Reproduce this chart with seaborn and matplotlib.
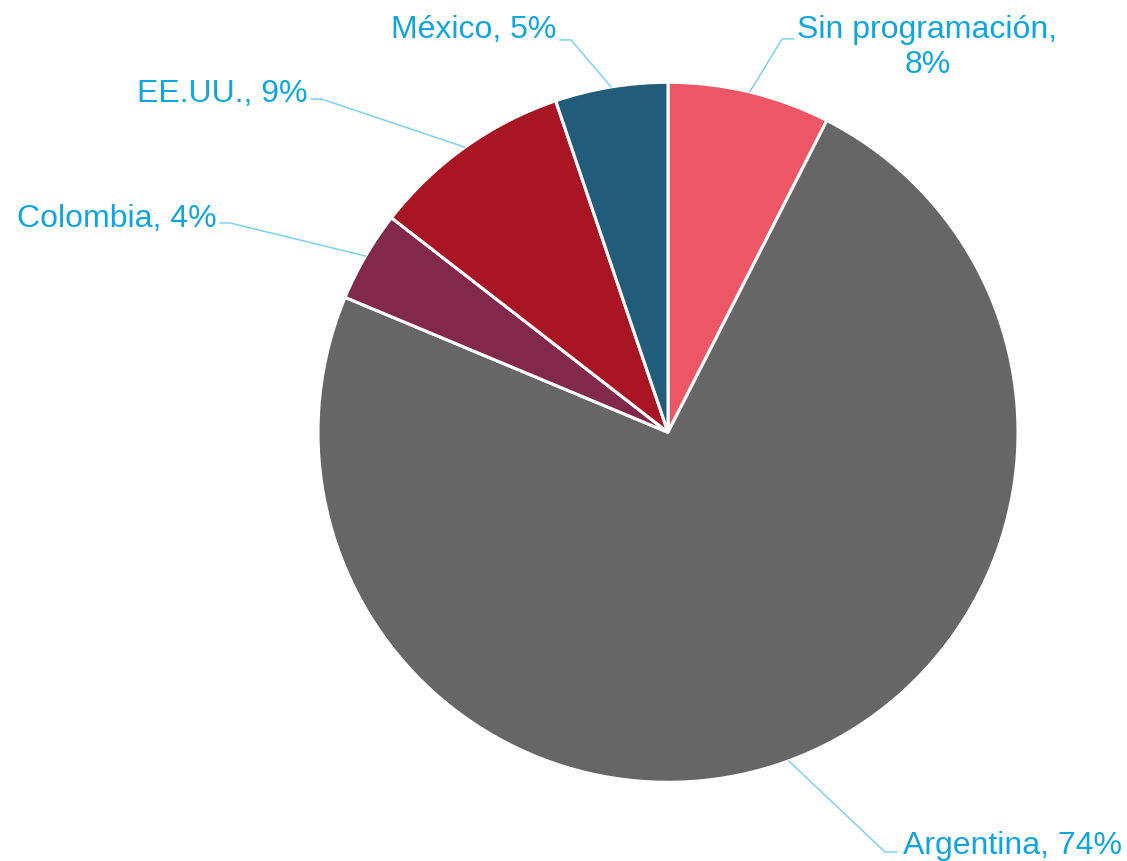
"""
Distribución por país de origen (gráfico de torta).
"""

import numpy as np
import matplotlib.pyplot as plt
import seaborn as sns

# datos
categorias = ["Sin programación", "Argentina", "Colombia", "EE.UU.", "México"]
valores = [7.5, 73.8, 4.2, 9.3, 5.2]
colores = ["#EC5665", "#666666", "#82294B", "#A91522", "#215D7A"]

# posiciones de etiquetas (unidades del radio): codo de la guía, fin de la guía, texto
codos = [(0.326, 1.124), (0.620, -1.199), (-1.251, 0.598), (-0.989, 0.952), (-0.277, 1.121)]
fines = [(0.360, 1.124), (0.654, -1.199), (-1.280, 0.598), (-1.020, 0.952), (-0.309, 1.121)]
textos_xy = [(0.741, 1.029), (0.671, -1.202), (-1.291, 0.589), (-1.031, 0.946), (-0.320, 1.130)]
alineacion = ["center", "left", "right", "right", "right"]

COLOR_TEXTO = "#10A5E0"
COLOR_GUIA = "#7ED0F2"

sns.set_style("white")
plt.rcParams["font.family"] = ["Liberation Sans", "DejaVu Sans"]

fig = plt.figure(figsize=(11.27, 8.62), dpi=100)
ax = fig.add_axes([318 / 1127, 78.7 / 862, 700 / 1127, 700 / 862])

wedges, _ = ax.pie(
    valores,
    colors=colores,
    startangle=90,
    counterclock=False,
    radius=1,
    wedgeprops={"edgecolor": "white", "linewidth": 2.2},
)

ax.set_xlim(-1, 1)
ax.set_ylim(-1, 1)
ax.axis("off")

for i, w in enumerate(wedges):
    ang = np.deg2rad((w.theta1 + w.theta2) / 2)
    x0, y0 = np.cos(ang), np.sin(ang)

    ax.plot(
        [x0, codos[i][0], fines[i][0]],
        [y0, codos[i][1], fines[i][1]],
        color=COLOR_GUIA,
        linewidth=1.1,
        clip_on=False,
    )

    if categorias[i] == "Sin programación":
        etiqueta = f"{categorias[i]},\n{valores[i]:.0f}%"
    else:
        etiqueta = f"{categorias[i]}, {valores[i]:.0f}%"

    ax.text(
        textos_xy[i][0],
        textos_xy[i][1],
        etiqueta,
        ha=alineacion[i],
        va="baseline",
        multialignment="center",
        fontsize=23,
        color=COLOR_TEXTO,
        linespacing=1.24,
    )

fig.savefig("out.png", dpi=100)
plt.close(fig)
